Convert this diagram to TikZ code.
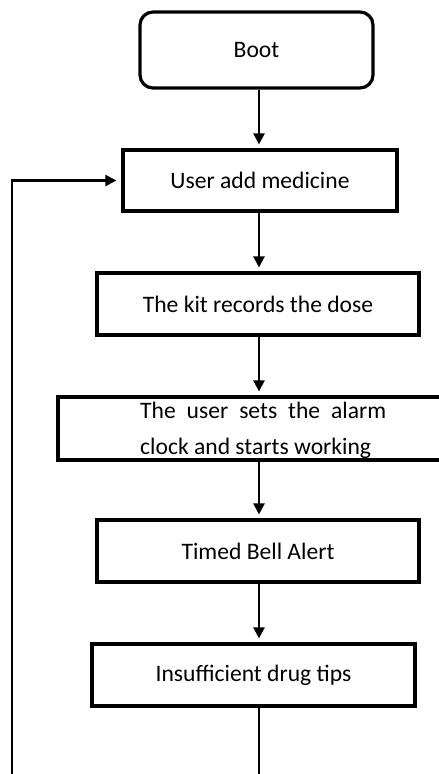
\documentclass[tikz,border=0pt]{standalone}
\usepackage{fontspec}
\setmainfont{Carlito}
\usetikzlibrary{arrows.meta}
\begin{document}
\begin{tikzpicture}[x=1pt,y=-1pt,
  box/.style={draw=black,line width=3.2pt,rectangle,inner sep=0pt,font=\fontsize{23.6}{28}\selectfont},
  rbox/.style={box,rounded corners=13pt},
  arr/.style={line width=2.3pt,-{Triangle[length=11pt,width=11pt]},shorten >=4pt},
  ln/.style={line width=2.3pt}]
\clip (0,0) rectangle (439,774);
\fill[white] (0,0) rectangle (439,774);
\coordinate (spine) at (259,0);
\node[rbox,minimum width=233pt,minimum height=76pt] (boot) at (256.5,50) {Boot};
\node[box,minimum width=274pt,minimum height=61pt] (user) at (260,180.5) {User add medicine};
\node[box,minimum width=322pt,minimum height=62pt] (kit) at (258,304) {The kit records the dose};
\node[box,minimum width=402pt,minimum height=63pt] (alarm) at (259,428.5) {};
\node[font=\fontsize{23.6}{28}\selectfont,anchor=base west,inner sep=0pt] (al1) at (140,418) {\makebox[246pt][s]{The user sets the alarm}};
\node[font=\fontsize{23.6}{28}\selectfont,anchor=base west,inner sep=0pt] (al2) at (140,454) {clock and starts working};
\node[box,minimum width=322pt,minimum height=62pt] (bell) at (258,551) {Timed Bell Alert};
\node[box,minimum width=323pt,minimum height=62pt] (ins) at (253.5,675) {Insufficient drug tips};
\coordinate (loopbot) at (12,790);
\coordinate (exit) at (259,790);
\draw[arr] (boot.south -| spine) -- (user.north -| spine);
\draw[arr] (user.south -| spine) -- (kit.north -| spine);
\draw[arr] (kit.south -| spine) -- (alarm.north -| spine);
\draw[arr] (alarm.south -| spine) -- (bell.north -| spine);
\draw[arr] (bell.south -| spine) -- (ins.north -| spine);
\draw[ln] (ins.south -| spine) -- (exit);
\draw[arr,shorten >=5pt] (loopbot) |- (user.west);
\end{tikzpicture}
\end{document}
